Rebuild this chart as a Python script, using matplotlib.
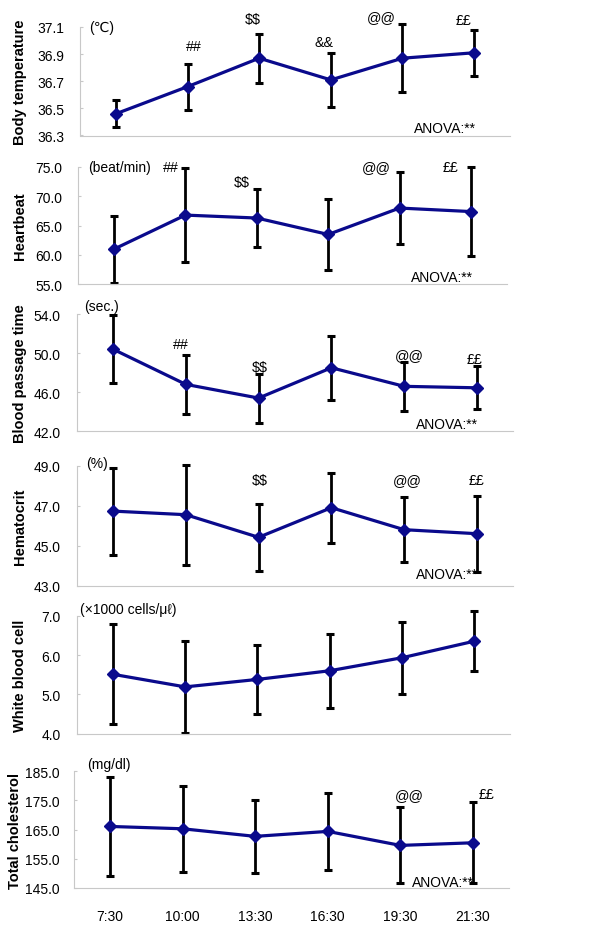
import numpy as np
import matplotlib
matplotlib.use("Agg")
import matplotlib.pyplot as plt

plt.rcParams['font.family'] = ['Liberation Sans', 'DejaVu Sans']

times = ['7:30', '10:00', '13:30', '16:30', '19:30', '21:30']

# body temperature
temp_mean = [36.46, 36.66, 36.87, 36.71, 36.87, 36.91]
temp_sd = [0.10, 0.17, 0.18, 0.20, 0.25, 0.17]
# heartbeat
hb_mean = [61.0, 66.8, 66.3, 63.5, 68.0, 67.4]
hb_sd = [5.7, 8.0, 5.0, 6.0, 6.2, 7.6]
# blood passage time
bpt_mean = [50.4, 46.8, 45.4, 48.5, 46.6, 46.45]
bpt_sd = [3.5, 3.05, 2.5, 3.25, 2.5, 2.2]
# hematocrit
hct_mean = [46.73, 46.55, 45.42, 46.9, 45.8, 45.6]
hct_sd = [2.18, 2.5, 1.67, 1.76, 1.63, 1.9]
# white blood cell
wbc_mean = [5.51, 5.19, 5.38, 5.6, 5.93, 6.35]
wbc_sd = [1.27, 1.16, 0.88, 0.94, 0.92, 0.76]
# total cholesterol
chol_mean = [166.1, 165.3, 162.7, 164.4, 159.6, 160.5]
chol_sd = [17.1, 14.7, 12.6, 13.3, 13.0, 13.9]

labels = ['Body temperature', 'Heartbeat', 'Blood passage time',
          'Hematocrit', 'White blood cell', 'Total cholesterol']
units = ['(\u2103)', '(beat/min)', '(sec.)', '(%)',
         '(\u00d71000 cells/\u03bc\u2113)', '(mg/dl)']
yticks = [[36.3, 36.5, 36.7, 36.9, 37.1],
          [55, 60, 65, 70, 75],
          [42, 46, 50, 54],
          [43, 45, 47, 49],
          [4, 5, 6, 7],
          [145, 155, 165, 175, 185]]

D = r'\$\$'
L = '\u00a3\u00a3'
# significance marks: (x index, y value, text)
marks = [
    [(1.09, 36.96, '##'), (1.91, 37.16, D), (2.9, 36.99, '&&'), (3.7, 37.17, '@@'), (4.85, 37.15, L)],
    [(0.8, 75.0, '##'), (1.79, 72.4, D), (3.68, 75.0, '@@'), (4.72, 75.0, L)],
    [(0.93, 50.9, '##'), (2.02, 48.6, D), (4.07, 49.8, '@@'), (4.97, 49.4, L)],
    [(2.02, 48.28, D), (4.05, 48.28, '@@'), (4.99, 48.28, L)],
    [],
    [(4.12, 176.9, '@@'), (5.19, 177.2, L)],
]
anova = [True, True, True, True, False, True]
anova_y = [0.065, 0.06, 0.062, 0.10, 0, 0.054]
unit_pos = [(0.021, 1.0), (0.023, 1.0), (0.017, 1.07), (0.021, 1.02), (0.007, 1.057), (0.03, 1.063)]
label_x = [27, 27, 27, 27, 27, 22]
tick_pad = [11.5, 11.5, 11.5, 11.5, 11.5, 10]

means = [temp_mean, hb_mean, bpt_mean, hct_mean, wbc_mean, chol_mean]
sds = [temp_sd, hb_sd, bpt_sd, hct_sd, wbc_sd, chol_sd]

# axes boxes in pixels: left, width, top, bottom
boxes = [(80, 430, 28, 136.5),
         (78.3, 428.4, 168, 285.3),
         (76.6, 436.8, 315, 432.3),
         (76.6, 436.8, 466.7, 586.7),
         (76.9, 433.2, 616.7, 734.7),
         (73.7, 435.6, 772.3, 889)]

fig = plt.figure(figsize=(6, 9.28), dpi=100)
x = np.arange(len(times))
for i in range(6):
    left, w, top, bot = boxes[i]
    ax = fig.add_axes([left / 600, 1 - bot / 928, w / 600, (bot - top) / 928])
    ax.errorbar(x, means[i], yerr=sds[i], fmt='none', ecolor='black',
                elinewidth=2.0, capsize=2.8, capthick=2.2, zorder=2, clip_on=False)
    ax.plot(x, means[i], color='#0a0a8c', lw=2.3, marker='D', ms=6.5, zorder=3, clip_on=False)
    ax.set_xlim(-0.5, 5.5)
    ax.set_ylim(yticks[i][0], yticks[i][-1])
    ax.set_yticks(yticks[i])
    ax.set_yticklabels(['%.1f' % v for v in yticks[i]], fontsize=10)
    ax.tick_params(axis='y', direction='in', length=2.5, width=0.8, color='#c8c8c8',
                   pad=tick_pad[i])
    for s in ['top', 'right']:
        ax.spines[s].set_visible(False)
    for s in ['left', 'bottom']:
        ax.spines[s].set_color('#c8c8c8')
        ax.spines[s].set_linewidth(0.8)
    ax.set_ylabel(labels[i], fontsize=10.5, fontweight='bold')
    ax.yaxis.set_label_coords((label_x[i] - left) / w, 0.5)
    if i == 5:
        ax.set_xticks(x)
        ax.set_xticklabels(times, fontsize=10)
        ax.tick_params(axis='x', length=0, pad=15)
    else:
        ax.set_xticks([])
    ux, uy = unit_pos[i]
    ax.text(ux, uy, units[i], transform=ax.transAxes, fontsize=10,
            ha='left', va='center')
    for mx, my, mt in marks[i]:
        ax.text(mx, my, mt, fontsize=10.3, ha='center', va='center', clip_on=False)
    if anova[i]:
        ax.text(0.776, anova_y[i], 'ANOVA:**', transform=ax.transAxes,
                fontsize=10, ha='left', va='center')

fig.savefig('out.png', dpi=100)
